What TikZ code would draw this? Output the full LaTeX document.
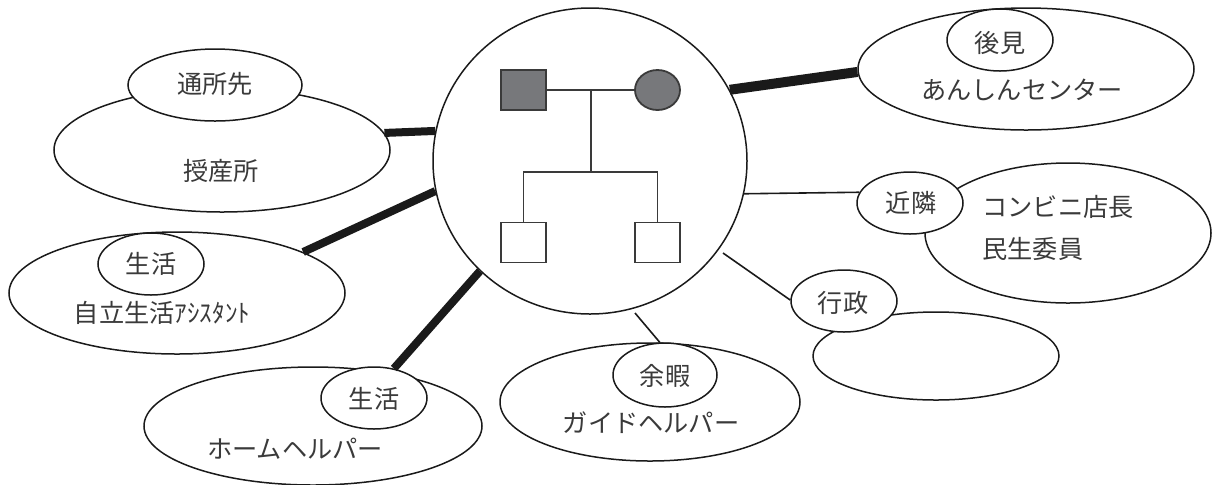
\documentclass[tikz,border=0pt]{standalone}
\usepackage{fontspec}
\setmainfont{Noto Sans CJK JP}
\usetikzlibrary{shapes.geometric}
\definecolor{ink}{HTML}{1A1A1A}
\definecolor{txt}{HTML}{3A3A3A}
\definecolor{fam}{HTML}{77787B}
\definecolor{famline}{HTML}{3A3A3A}
\tikzset{
  oval/.style={ellipse, draw=ink, line width=0.75pt, fill=white, inner sep=0pt},
  lbl/.style={text=txt, font=\fontsize{12.6pt}{14pt}\selectfont, inner sep=0pt},
  thick link/.style={draw=ink, line width=4pt},
  heavy link/.style={draw=ink, line width=5pt},
  thin link/.style={draw=ink, line width=0.8pt},
  famline/.style={draw=famline, line width=0.8pt},
  person/.style={draw=famline, line width=0.9pt, minimum width=22.5pt, minimum height=20pt, inner sep=0pt}
}
\begin{document}
\begin{tikzpicture}[x=0.5pt, y=-0.5pt]
\useasboundingbox (0,0) rectangle (1216,484);

% outer (big) ellipses
\node[oval, minimum width=168pt, minimum height=62pt] (jusan) at (222,150) {};
\node[oval, minimum width=168pt, minimum height=61pt] (jiritsu) at (177,293) {};
\node[oval, minimum width=169pt, minimum height=59pt] (home) at (313,426) {};
\node[oval, minimum width=150pt, minimum height=59pt] (guide) at (650,402) {};
\node[oval, minimum width=168pt, minimum height=61pt] (anshin) at (1026,69) {};
\node[oval, minimum width=143pt, minimum height=70pt] (conv) at (1068,233) {};
\node[oval, minimum width=123pt, minimum height=44pt] (gyosei) at (936,356) {};

% small category ellipses
\node[oval, minimum width=87pt, minimum height=36pt] (tsusho) at (215,85) {};
\node[oval, minimum width=53pt, minimum height=31pt] (seikatsuA) at (151,264) {};
\node[oval, minimum width=53pt, minimum height=31pt] (seikatsuB) at (374,398) {};
\node[oval, minimum width=52pt, minimum height=32pt] (yoka) at (665,375) {};
\node[oval, minimum width=53pt, minimum height=31pt] (koken) at (1000,40) {};
\node[oval, minimum width=53pt, minimum height=31pt] (kinrin) at (910,203) {};
\node[oval, minimum width=53pt, minimum height=31pt] (gyoseiS) at (844,301) {};

% central family circle
\node[oval, minimum width=157pt, minimum height=153pt] (family) at (590,161) {};

% connectors
\draw[thick link] (jusan.6.9) -- (family.169.2);
\draw[thick link] (jiritsu.18.9) -- (family.191.2);
\draw[thick link] (seikatsuB.56.8) -- (family.225.5);
\draw[heavy link] (anshin.181.4) -- (family.27.4);
\draw[thin link] (family.348.8) -- (kinrin.168.3);
\coordinate (gyoStart) at (723,253);
\draw[thin link] (gyoStart) -- (gyoseiS.179);
\coordinate (yokaStart) at (635,313);
\draw[thin link] (yokaStart) -- (yoka.99);

% family tree
\node[person, fill=fam] (father) at (523.5,90) {};
\node[person, ellipse, fill=fam] (mother) at (657.5,90) {};
\node[person, fill=white] (son1) at (523.5,242.5) {};
\node[person, fill=white] (son2) at (657.5,242.5) {};
\coordinate (mid) at (591,90);
\coordinate (junction) at (591,172);
\draw[famline] (father.east) -- (mother.west);
\draw[famline] (mid) -- (junction);
\draw[famline] (son1.north) |- (junction) -| (son2.north);

% labels
\node[lbl] (t1) at (215,84) {通所先};
\node[lbl] (t2) at (221,171) {授産所};
\node[lbl] (t3) at (151,264) {生活};
\node[lbl] (t4) at (162,313) {自立生活ｱｼｽﾀﾝﾄ};
\node[lbl] (t5) at (374,399) {生活};
\node[lbl] (t6) at (295,449) {ホームヘルパー};
\node[lbl] (t7) at (665,376) {余暇};
\node[lbl] (t8) at (651,423) {ガイドヘルパー};
\node[lbl] (t9) at (1000,43) {後見};
\node[lbl] (t10) at (1022,90) {あんしんセンター};
\node[lbl] (t11) at (911,203) {近隣};
\node[lbl, anchor=west] (t12) at (982,207) {コンビニ店長};
\node[lbl, anchor=west] (t13) at (982,249) {民生委員};
\node[lbl] (t14) at (843,303) {行政};
\end{tikzpicture}
\end{document}
